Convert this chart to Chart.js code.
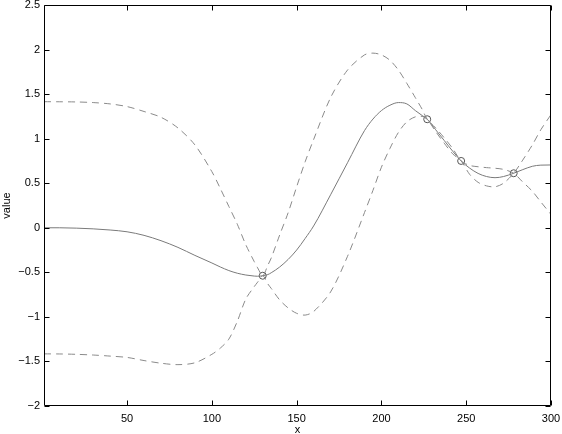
<!DOCTYPE html>
<html><head><meta charset="utf-8">
<script src="https://cdn.jsdelivr.net/npm/chart.js@4/dist/chart.umd.min.js"></script>
<style>html,body{margin:0;padding:0;background:#fff}#wrap{width:562px;height:434px}</style>
</head><body><div id="wrap"><canvas id="c" width="562" height="434"></canvas></div>
<script>
const xs = [1,10,20,30,40,50,60,70,80,90,100,105,110,115,120,125,127,130,133,135,140,145,150,155,160,170,180,190,195,200,205,210,215,220,224,227,232,237,242,247,252,257,262,267,272,278,283,289,294,300];
const meanVals = [0,0,-0.004,-0.012,-0.025,-0.045,-0.085,-0.145,-0.22,-0.31,-0.395,-0.44,-0.48,-0.51,-0.53,-0.542,-0.544,-0.538,-0.525,-0.505,-0.44,-0.355,-0.25,-0.12,0.02,0.37,0.73,1.09,1.22,1.315,1.375,1.405,1.39,1.315,1.26,1.218,1.10,0.98,0.86,0.75,0.67,0.61,0.575,0.562,0.575,0.612,0.65,0.69,0.703,0.705];
const upperVals = [1.415,1.414,1.412,1.405,1.39,1.36,1.305,1.24,1.12,0.93,0.63,0.44,0.24,0.04,-0.19,-0.38,-0.45,-0.538,-0.42,-0.34,-0.08,0.17,0.46,0.74,0.99,1.46,1.77,1.94,1.96,1.94,1.88,1.77,1.62,1.46,1.33,1.218,1.12,1.01,0.89,0.75,0.70,0.685,0.675,0.668,0.655,0.612,0.52,0.41,0.29,0.15];
const lowerVals = [-1.415,-1.416,-1.42,-1.428,-1.44,-1.455,-1.49,-1.52,-1.536,-1.515,-1.42,-1.35,-1.25,-1.05,-0.80,-0.66,-0.61,-0.538,-0.63,-0.68,-0.81,-0.90,-0.96,-0.98,-0.94,-0.72,-0.32,0.17,0.42,0.68,0.89,1.07,1.19,1.245,1.25,1.218,1.08,0.95,0.83,0.75,0.60,0.51,0.47,0.46,0.50,0.612,0.75,0.93,1.10,1.27];
const obsX = [130, 227, 247, 278];
const obsY = [-0.538, 1.218, 0.75, 0.612];
const xTicks = [50, 100, 150, 200, 250, 300];
const yTicks = [-2, -1.5, -1, -0.5, 0, 0.5, 1, 1.5, 2, 2.5];

const pts = vals => xs.map((x, i) => ({x: x, y: vals[i]}));
const FONT = {family: "'Liberation Sans', Arial, Helvetica, sans-serif", size: 11};

const boxPlugin = {
  id: 'boxTicks',
  afterDatasetsDraw(chart) {
    const {ctx, chartArea: a, scales} = chart;
    const sx = scales.x, sy = scales.y;
    const L = a.left + 0.5, R = a.right - 0.5, T = a.top + 0.5, B = a.bottom - 0.5;
    ctx.save();
    ctx.strokeStyle = '#000';
    ctx.lineWidth = 1;
    ctx.beginPath();
    ctx.rect(L, T, R - L, B - T);
    const tl = 5;
    xTicks.forEach(v => {
      const p = Math.round(sx.getPixelForValue(v)) + 0.5;
      ctx.moveTo(p, B); ctx.lineTo(p, B - tl);
      ctx.moveTo(p, T); ctx.lineTo(p, T + tl);
    });
    yTicks.forEach(v => {
      const p = Math.round(sy.getPixelForValue(v)) + 0.5;
      ctx.moveTo(L, p); ctx.lineTo(L + tl, p);
      ctx.moveTo(R, p); ctx.lineTo(R - tl, p);
    });
    ctx.stroke();
    ctx.restore();
  }
};

new Chart(document.getElementById('c'), {
  type: 'line',
  data: {
    datasets: [
      {label: 'upper', data: pts(upperVals), borderColor: '#8a8a8a', borderWidth: 1, borderDash: [7, 5], pointRadius: 0, tension: 0.3, fill: false},
      {label: 'lower', data: pts(lowerVals), borderColor: '#8a8a8a', borderWidth: 1, borderDash: [7, 5], pointRadius: 0, tension: 0.3, fill: false},
      {label: 'mean', data: pts(meanVals), borderColor: '#7a7a7a', borderWidth: 1, pointRadius: 0, cubicInterpolationMode: 'monotone', fill: false},
      {type: 'scatter', label: 'obs', data: obsX.map((x, i) => ({x: x, y: obsY[i]})), showLine: false, pointRadius: 3.5, pointBorderWidth: 1, borderColor: '#555', pointBorderColor: '#555', backgroundColor: 'rgba(0,0,0,0)', pointBackgroundColor: 'rgba(0,0,0,0)'}
    ]
  },
  options: {
    responsive: false,
    animation: false,
    devicePixelRatio: 1,
    layout: {padding: {top: 5, right: 11, bottom: 0, left: 0}},
    plugins: {legend: {display: false}, tooltip: {enabled: false}},
    scales: {
      x: {
        type: 'linear', min: 1, max: 300,
        grid: {display: false, drawTicks: false},
        border: {display: false},
        ticks: {font: FONT, color: '#000', padding: 6, maxRotation: 0, autoSkip: false},
        afterBuildTicks: s => { s.ticks = xTicks.map(v => ({value: v})); },
        afterFit: s => { s.height = 28; s.paddingLeft = 0; s.paddingRight = 0; },
        title: {display: true, text: 'x', font: FONT, color: '#000', padding: {top: 0, bottom: -3}}
      },
      y: {
        type: 'linear', min: -2, max: 2.5,
        grid: {display: false, drawTicks: false},
        border: {display: false},
        ticks: {font: FONT, color: '#000', padding: 4, autoSkip: false,
          callback: v => String(v).replace('-', '\u2212')},
        afterBuildTicks: s => { s.ticks = yTicks.map(v => ({value: v})); },
        afterFit: s => { s.width = 44; s.paddingTop = 0; s.paddingBottom = 0; },
        title: {display: true, text: 'value', font: FONT, color: '#000', padding: {top: 0, bottom: 0}}
      }
    }
  },
  plugins: [boxPlugin]
});
</script>
</body></html>
